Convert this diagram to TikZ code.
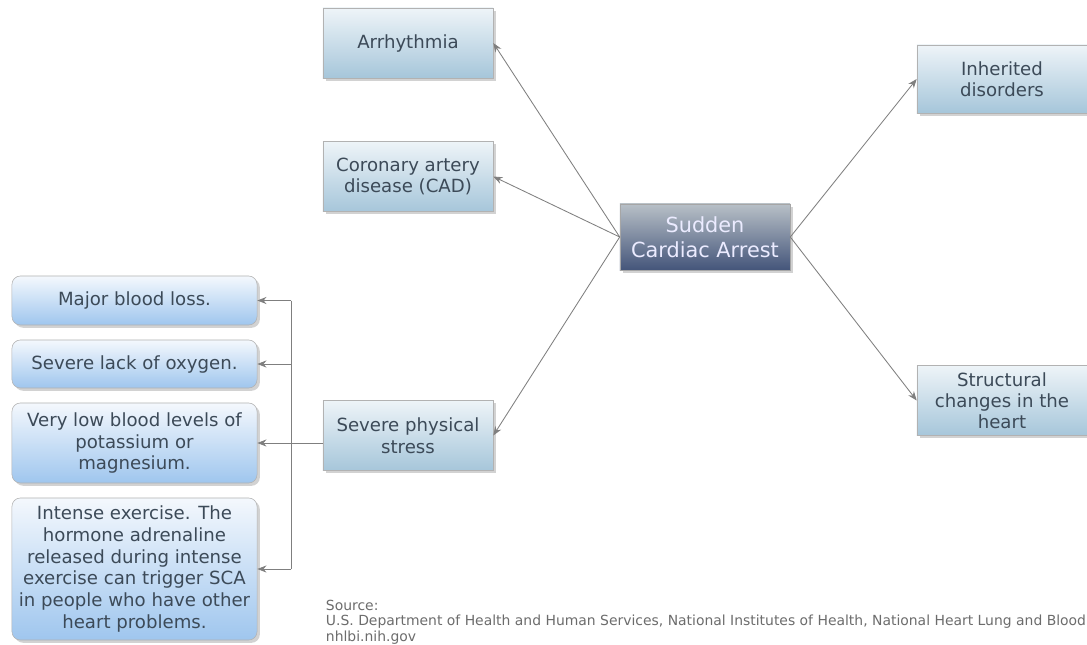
\documentclass[tikz,border=0pt]{standalone}
\usepackage{fontspec}
\setmainfont{DejaVu Sans}
\usetikzlibrary{positioning, shadows, arrows.meta}

\definecolor{boxtop}{HTML}{EEF4F8}
\definecolor{boxbot}{HTML}{A6C6DA}
\definecolor{roundtop}{HTML}{F4F8FD}
\definecolor{roundbot}{HTML}{9FC6EE}
\definecolor{scatop}{HTML}{B8C0C7}
\definecolor{scabot}{HTML}{44557A}
\definecolor{boxtext}{HTML}{3C4A58}
\definecolor{linkgray}{HTML}{7F7F7F}

\tikzset{
  cause/.style={
    rectangle,
    draw=gray!60,
    top color=boxtop,
    bottom color=boxbot,
    text=boxtext,
    align=center,
    font=\fontsize{12.9}{15.3}\selectfont,
    minimum width=4.25cm,
    minimum height=1.75cm,
    drop shadow={opacity=0.35, shadow xshift=2pt, shadow yshift=-2pt}},
  trigger/.style={
    rectangle,
    rounded corners=6pt,
    draw=gray!60,
    top color=roundtop,
    bottom color=roundbot,
    text=boxtext,
    align=center,
    font=\fontsize{12.9}{15.6}\selectfont,
    minimum width=6.125cm,
    drop shadow={opacity=0.35, shadow xshift=2pt, shadow yshift=-2pt}},
  link/.style={
    draw=linkgray,
    semithick,
    -{Stealth[length=6.5pt, width=5pt]}}
}

\begin{document}
\begin{tikzpicture}[x=0.025cm, y=-0.025cm]
  \fill[white] (0,0) rectangle (1087,645);
  \clip (0,0) rectangle (1087,645);

  % centre
  \node[
  rectangle,
  draw=gray!70,
  top color=scatop,
  bottom color=scabot,
  text=white!92!blue,
  align=center,
  font=\fontsize{14.8}{17.7}\selectfont,
  minimum width=4.25cm,
  minimum height=1.65cm,
  drop shadow={opacity=0.35, shadow xshift=2pt, shadow yshift=-2pt}] (sca) at (705,237) {Sudden\\Cardiac Arrest};

  % causes
  \node[cause] (arr) at (408,43) {Arrhythmia};
  \node[cause] (cad) at (408,176.5) {Coronary artery\\disease (CAD)};
  \node[cause] (stress) at (408,435.5) {Severe physical\\stress};
  \node[cause, minimum height=1.7cm] (inh) at (1002,79) {Inherited\\disorders};
  \node[cause, font=\fontsize{12.9}{14.9}\selectfont] (struct) at (1002,400.5) {Structural\\changes in the\\heart};

  % triggers
  \node[trigger, minimum height=1.225cm] (loss) at (134.5,300.5) {Major blood loss.};
  \node[trigger, minimum height=1.2cm] (oxy) at (134.5,364) {Severe lack of oxygen.};
  \node[trigger, minimum height=2cm] (potas) at (134.5,443) {Very low blood levels of\\potassium or\\magnesium.};
  \node[trigger, minimum height=3.55cm] (exer) at (134.5,569) {Intense exercise. The\\hormone adrenaline\\released during intense\\exercise can trigger SCA\\in people who have other\\heart problems.};

  \draw[link] (sca.west) -- (arr.east);
  \draw[link] (sca.west) -- (cad.east);
  \draw[link] (sca.west) -- (stress.east);
  \draw[link] (sca.east) -- (inh.west);
  \draw[link] (sca.east) -- (struct.west);

  \coordinate (bus) at (291,443);
  \draw[linkgray, semithick] (bus -| stress.west) -- (bus);
  \draw[linkgray, semithick] (bus |- loss.east) -- (bus |- exer.east);
  \foreach \t in {loss, oxy, potas, exer}
    \draw[link] (bus |- \t.east) -- (\t.east);

  \node[
  anchor=north west,
  align=left,
  text=gray!85!black,
  font=\fontsize{9.9}{11}\selectfont] (src) at (321,595) {Source:\\U.S. Department of Health and Human Services, National Institutes of Health, National Heart Lung and Blood\\nhlbi.nih.gov};
\end{tikzpicture}
\end{document}
